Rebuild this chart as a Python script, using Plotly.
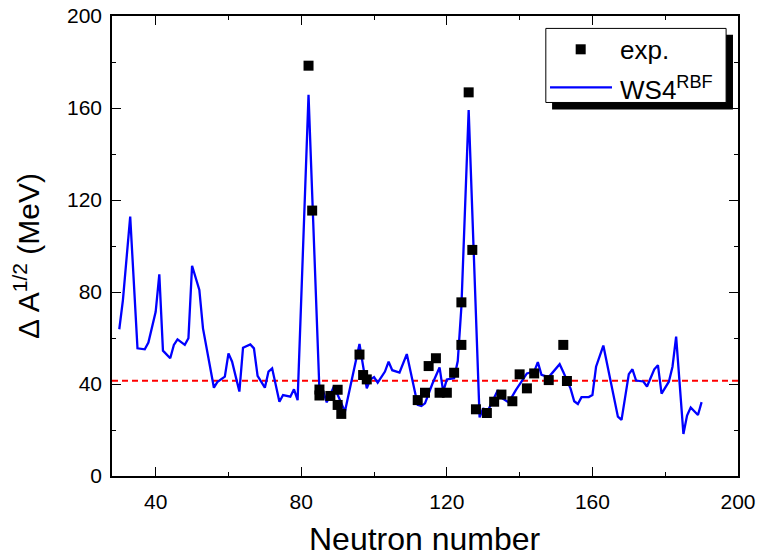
import plotly.graph_objects as go

# Model line (WS4^RBF)
n_line = [30, 31, 33, 35, 37, 38, 40, 41, 42, 44, 45, 46, 48, 49, 50, 52, 53, 56, 57, 59,
          60, 61, 62, 63, 64, 66, 67, 68, 70, 71, 72, 74, 75, 77, 78, 79, 82, 85, 86, 87,
          89, 92, 96, 98, 99, 100, 101, 103, 104, 105, 107, 109, 112, 113, 114, 116, 118, 119, 120, 122,
          123, 124, 126, 129, 130, 131, 134, 135, 137, 139, 142, 144, 145, 146, 148, 151, 152, 154, 155, 156,
          157, 159, 160, 161, 163, 167, 168, 170, 171, 172, 174, 175, 177, 178, 179, 181, 182, 183, 185, 186,
          187, 189, 190]
v_line = [63.8, 76.5, 112.8, 55.5, 55.1, 58.0, 71.4, 87.7, 54.5, 51.2, 57.0, 59.4, 57.0, 59.9, 91.4, 80.9, 64.2, 38.4, 41.0, 43.2,
          53.3, 49.7, 43.2, 36.7, 55.8, 57.2, 55.5, 43.5, 38.4, 45.4, 46.8, 32.3, 35.2, 34.5, 37.7, 33.0, 165.7, 37.0, 37.0, 32.0,
          39.0, 28.0, 57.4, 38.1, 42.0, 43.0, 40.6, 45.4, 49.7, 46.0, 45.0, 53.0, 30.9, 30.4, 31.6, 40.0, 47.2, 36.7, 42.0, 42.5,
          50.0, 73.6, 159.1, 25.5, 29.5, 27.5, 37.3, 34.0, 32.0, 37.4, 44.6, 45.4, 49.5, 44.0, 43.0, 48.6, 45.2, 38.0, 32.5, 31.3,
          34.3, 34.3, 35.2, 47.5, 56.7, 25.8, 24.4, 44.3, 46.4, 41.5, 41.1, 38.9, 46.4, 48.2, 35.8, 41.0, 47.5, 60.6, 18.3, 26.3,
          29.8, 26.5, 32.1]

# Experimental points
n_exp = [82, 83, 85, 85, 88, 90, 90, 91, 96, 97, 98, 112, 114, 115, 117, 118, 120, 122, 124, 124,
         126, 127, 128, 131, 133, 135, 138, 140, 142, 144, 148, 152, 153]
v_exp = [178.4, 115.4, 37.6, 35.0, 34.8, 37.5, 30.9, 27.0, 52.8, 43.9, 42.0, 33.0, 36.2, 47.8, 51.2, 36.2, 36.2, 44.9, 57.0, 75.5,
         166.8, 98.3, 29.0, 27.4, 32.3, 35.4, 32.5, 44.2, 38.1, 44.6, 41.7, 57.0, 41.3]

ref_level = 41.4
x_range = [28, 200]
y_range = [0, 200]
x_ticks = [40, 80, 120, 160, 200]
y_ticks = [0, 40, 80, 120, 160, 200]

FONT = "Liberation Sans, Arial, sans-serif"

fig = go.Figure()
fig.add_trace(go.Scatter(x=x_range, y=[ref_level, ref_level], mode="lines",
                         line=dict(color="#ff0000", width=2, dash="6px,4px"),
                         showlegend=False, hoverinfo="skip"))
fig.add_trace(go.Scatter(x=n_line, y=v_line, mode="lines", name="WS4<sup>RBF</sup>",
                         line=dict(color="#0000ff", width=2.3), showlegend=False))
fig.add_trace(go.Scatter(x=n_exp, y=v_exp, mode="markers", name="exp.",
                         marker=dict(symbol="square", size=10, color="black", line=dict(width=0)),
                         showlegend=False))

axis_common = dict(showgrid=False, zeroline=False, showline=True, linecolor="black", linewidth=1.6,
                   mirror="allticks", ticks="inside", ticklen=9, tickwidth=1.4, tickcolor="black",
                   automargin=False,
                   tickfont=dict(family=FONT, size=21, color="black"))

fig.update_xaxes(range=x_range, tickvals=x_ticks, ticklabelstandoff=6,
                 minor=dict(dtick=20, tick0=0, ticks="inside", ticklen=4, tickwidth=1.4, tickcolor="black"),
                 **axis_common)
fig.update_yaxes(range=y_range, tickvals=y_ticks, ticklabelstandoff=4,
                 minor=dict(dtick=20, tick0=0, ticks="inside", ticklen=4, tickwidth=1.4, tickcolor="black"),
                 **axis_common)

# legend drawn as shapes + annotations (box with drop shadow)
shapes = [
    dict(type="rect", xref="paper", yref="paper", x0=0.703, x1=0.992, y0=0.797, y1=0.959,
         fillcolor="black", line=dict(width=0), layer="above"),
    dict(type="rect", xref="paper", yref="paper", x0=0.693, x1=0.981, y0=0.812, y1=0.973,
         fillcolor="white", line=dict(color="black", width=1), layer="above"),
    dict(type="rect", xref="paper", yref="paper", x0=0.7407, x1=0.7567, y0=0.9167, y1=0.9385,
         fillcolor="black", line=dict(width=0), layer="above"),
    dict(type="line", xref="paper", yref="paper", x0=0.6997, x1=0.7987, y0=0.845, y1=0.845,
         line=dict(color="#0000ff", width=2.3), layer="above"),
]
annotations = [
    dict(text="exp.", xref="paper", yref="paper", x=0.8083, y=0.927, xanchor="left", yanchor="middle",
         showarrow=False, font=dict(family=FONT, size=26, color="black")),
    dict(text="WS4<sup>RBF</sup>", xref="paper", yref="paper", x=0.8083, y=0.842, xanchor="left", yanchor="middle",
         showarrow=False, font=dict(family=FONT, size=26, color="black")),
    dict(text="Neutron number", xref="paper", yref="paper", x=0.5, y=-0.137, xanchor="center", yanchor="middle",
         showarrow=False, font=dict(family=FONT, size=32, color="black")),
    dict(text="\u0394 A<sup>1/2</sup> (MeV)", xref="paper", yref="paper", x=-0.136, y=0.478,
         xanchor="center", yanchor="middle", textangle=-90,
         showarrow=False, font=dict(family=FONT, size=30, color="black")),
]

fig.update_layout(width=761, height=559, margin=dict(l=112, r=23, t=16, b=83),
                  plot_bgcolor="white", paper_bgcolor="white", showlegend=False,
                  shapes=shapes, annotations=annotations,
                  font=dict(family=FONT, color="black"))

fig.write_html("out.html", config={"displayModeBar": False},
               post_script="document.body.style.margin='0';document.body.style.overflow='hidden';")
